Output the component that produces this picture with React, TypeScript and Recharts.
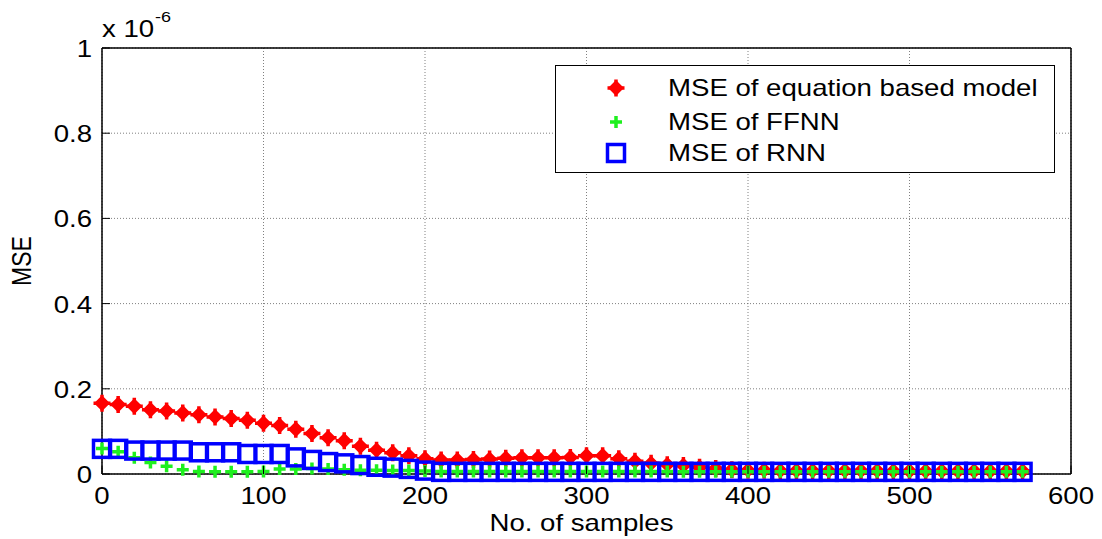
import React from 'react';
import { ScatterChart, Scatter, XAxis, YAxis, CartesianGrid, Legend, Label } from 'recharts';

// MSE per sample index, in units of 1e-6
const SAMPLES = [
  0, 10, 20, 30, 40, 50, 60, 70, 80, 90,
  100, 110, 120, 130, 140, 150, 160, 170, 180, 190,
  200, 210, 220, 230, 240, 250, 260, 270, 280, 290,
  300, 310, 320, 330, 340, 350, 360, 370, 380, 390,
  400, 410, 420, 430, 440, 450, 460, 470, 480, 490,
  500, 510, 520, 530, 540, 550, 560, 570,
];

const EQ_MSE = [
  0.166, 0.163, 0.159, 0.151, 0.148, 0.143, 0.139, 0.134, 0.130, 0.126,
  0.119, 0.114, 0.105, 0.095, 0.085, 0.078, 0.065, 0.056, 0.050, 0.043,
  0.036, 0.033, 0.033, 0.034, 0.035, 0.037, 0.038, 0.038, 0.038, 0.039,
  0.043, 0.043, 0.036, 0.030, 0.025, 0.022, 0.020, 0.016, 0.013, 0.010,
  0.009, 0.009, 0.008, 0.008, 0.008, 0.008, 0.008, 0.008, 0.008, 0.007,
  0.007, 0.007, 0.007, 0.007, 0.007, 0.007, 0.007, 0.007,
];

const FFNN_MSE = [
  0.060, 0.052, 0.038, 0.027, 0.018, 0.010, 0.006, 0.005, 0.005, 0.005,
  0.006, 0.012, 0.012, 0.013, 0.012, 0.010, 0.009, 0.009, 0.008, 0.008,
  0.007, 0.006, 0.006, 0.006, 0.006, 0.006, 0.006, 0.006, 0.006, 0.006,
  0.006, 0.006, 0.006, 0.006, 0.006, 0.006, 0.005, 0.005, 0.005, 0.005,
  0.005, 0.005, 0.005, 0.005, 0.005, 0.005, 0.005, 0.005, 0.005, 0.005,
  0.005, 0.005, 0.005, 0.005, 0.005, 0.005, 0.005, 0.005,
];

const RNN_MSE = [
  0.059, 0.059, 0.055, 0.055, 0.055, 0.055, 0.051, 0.051, 0.051, 0.047,
  0.047, 0.047, 0.039, 0.033, 0.028, 0.025, 0.021, 0.017, 0.015, 0.012,
  0.008, 0.005, 0.005, 0.005, 0.005, 0.005, 0.005, 0.005, 0.005, 0.005,
  0.005, 0.005, 0.005, 0.005, 0.005, 0.005, 0.005, 0.005, 0.005, 0.005,
  0.005, 0.005, 0.005, 0.005, 0.005, 0.005, 0.005, 0.005, 0.005, 0.005,
  0.005, 0.005, 0.005, 0.005, 0.005, 0.005, 0.005, 0.005,
];

const X_TICKS = [0, 100, 200, 300, 400, 500, 600];
const Y_TICKS = [0, 0.2, 0.4, 0.6, 0.8, 1];

const SERIES_NAMES = ['MSE of equation based model', 'MSE of FFNN', 'MSE of RNN'];

const toPoints = (ys: number[]) => SAMPLES.map((x, i) => ({ x, y: ys[i] }));

const FONT = '"Liberation Sans", Arial, sans-serif';
const SX = 1.2;
const RED = '#ff0000';
const GREEN = '#1ef01e';
const BLUE = '#0000ff';

const Diamond = ({ cx, cy }: any) => (
  <g>
    <polygon
      points={`${cx},${cy - 6.5} ${cx + 6.5},${cy} ${cx},${cy + 6.5} ${cx - 6.5},${cy}`}
      fill={RED}
      stroke={RED}
      strokeWidth={2}
      strokeLinejoin="round"
    />
    <path d={`M${cx - 8.5},${cy}H${cx + 8.5}M${cx},${cy - 8.5}V${cy + 8.5}`} stroke={RED} strokeWidth={3.5} />
  </g>
);

const Plus = ({ cx, cy }: any) => (
  <path d={`M${cx - 6},${cy}H${cx + 6}M${cx},${cy - 6}V${cy + 6}`} stroke={GREEN} strokeWidth={3.5} />
);

const Square = ({ cx, cy }: any) => (
  <rect x={cx - 8.5} y={cy - 8.5} width={17} height={17} fill="none" stroke={BLUE} strokeWidth={3.5} />
);

// MATLAB style ticks: short marks pointing into the axes box
const AxisTick = ({ x, y, payload, side }: any) => {
  const len = 8;
  if (side === 'bottom') {
    return (
      <g>
        <line x1={x} y1={y} x2={x} y2={y - len} stroke="#000" />
        <text transform={`translate(${x} ${y + 30}) scale(${SX} 1)`} textAnchor="middle" fontSize={23} fontFamily={FONT} fill="#000">
          {payload.value}
        </text>
      </g>
    );
  }
  if (side === 'left') {
    return (
      <g>
        <line x1={x} y1={y} x2={x + len} y2={y} stroke="#000" />
        <text transform={`translate(${x - 10} ${y + 9}) scale(${SX} 1)`} textAnchor="end" fontSize={23} fontFamily={FONT} fill="#000">
          {Number(payload.value.toFixed(1))}
        </text>
      </g>
    );
  }
  if (side === 'top') return <line x1={x} y1={y} x2={x} y2={y + len} stroke="#000" />;
  return <line x1={x} y1={y} x2={x - len} y2={y} stroke="#000" />;
};

const LegendBox = () => {
  const markers = [Diamond, Plus, Square];
  const rows = [23, 57, 88];
  return (
    <div style={{ width: 500, height: 108, boxSizing: 'border-box', border: '1.5px solid #000', background: '#fff' }}>
      <svg width={497} height={105} style={{ display: 'block' }}>
        {SERIES_NAMES.map((name, i) => {
          const M = markers[i];
          return (
            <g key={name}>
              <M cx={60} cy={rows[i] - 1} />
              <text transform={`translate(112 ${rows[i] + 7}) scale(${SX} 1)`} fontSize={23} fontFamily={FONT} fill="#000">
                {name}
              </text>
            </g>
          );
        })}
      </svg>
    </div>
  );
};

export default function App() {
  return (
    <div style={{ position: 'absolute', left: 0, top: 0, background: '#fff' }}>
      <ScatterChart width={1102} height={539} margin={{ top: 0, right: 0, bottom: 0, left: 0 }}>
        <CartesianGrid stroke="#606060" strokeWidth={0.8} strokeDasharray="1 2" />
        <XAxis
          type="number"
          dataKey="x"
          domain={[0, 600]}
          ticks={X_TICKS}
          interval={0}
          height={65}
          tickSize={0}
          tickMargin={0}
          tickLine={false}
          axisLine={{ stroke: '#000', strokeWidth: 1.5 }}
          tick={<AxisTick side="bottom" />}
        >
          <Label
            content={({ viewBox }: any) => (
              <text
                transform={`translate(${viewBox.x + viewBox.width / 2 - 5} ${viewBox.y + 57}) scale(${SX} 1)`}
                textAnchor="middle"
                fontSize={23}
                fontFamily={FONT}
                fill="#000"
              >
                No. of samples
              </text>
            )}
          />
        </XAxis>
        <XAxis
          xAxisId="top"
          orientation="top"
          type="number"
          domain={[0, 600]}
          ticks={X_TICKS}
          interval={0}
          height={48}
          tickSize={0}
          tickMargin={0}
          tickLine={false}
          axisLine={{ stroke: '#000', strokeWidth: 1.5 }}
          tick={<AxisTick side="top" />}
        >
          <Label
            content={({ viewBox }: any) => (
              <g>
                <text transform={`translate(${viewBox.x} ${viewBox.y + 37}) scale(${SX} 1)`} fontSize={23} fontFamily={FONT} fill="#000">
                  x 10
                </text>
                <text transform={`translate(${viewBox.x + 53} ${viewBox.y + 22}) scale(${SX} 1)`} fontSize={15} fontFamily={FONT} fill="#000">
                  -6
                </text>
              </g>
            )}
          />
        </XAxis>
        <YAxis
          type="number"
          dataKey="y"
          domain={[0, 1]}
          ticks={Y_TICKS}
          interval={0}
          width={102}
          tickSize={0}
          tickMargin={0}
          tickLine={false}
          axisLine={{ stroke: '#000', strokeWidth: 1.5 }}
          tick={<AxisTick side="left" />}
        >
          <Label
            content={({ viewBox }: any) => (
              <text
                transform={`translate(${viewBox.x + 31} ${viewBox.y + viewBox.height / 2}) rotate(-90) scale(1 ${SX})`}
                textAnchor="middle"
                fontSize={23}
                fontFamily={FONT}
                fill="#000"
              >
                MSE
              </text>
            )}
          />
        </YAxis>
        <YAxis
          yAxisId="right"
          orientation="right"
          type="number"
          domain={[0, 1]}
          ticks={Y_TICKS}
          interval={0}
          width={31}
          tickSize={0}
          tickMargin={0}
          tickLine={false}
          axisLine={{ stroke: '#000', strokeWidth: 1.5 }}
          tick={<AxisTick side="right" />}
        />
        <Scatter name={SERIES_NAMES[0]} data={toPoints(EQ_MSE)} shape={<Diamond />} isAnimationActive={false} />
        <Scatter name={SERIES_NAMES[1]} data={toPoints(FFNN_MSE)} shape={<Plus />} isAnimationActive={false} />
        <Scatter name={SERIES_NAMES[2]} data={toPoints(RNN_MSE)} shape={<Square />} isAnimationActive={false} />
        <Legend
          layout="vertical"
          align="center"
          verticalAlign="middle"
          wrapperStyle={{ left: 555, top: 65, width: 500, height: 108 }}
          content={<LegendBox />}
        />
      </ScatterChart>
    </div>
  );
}
